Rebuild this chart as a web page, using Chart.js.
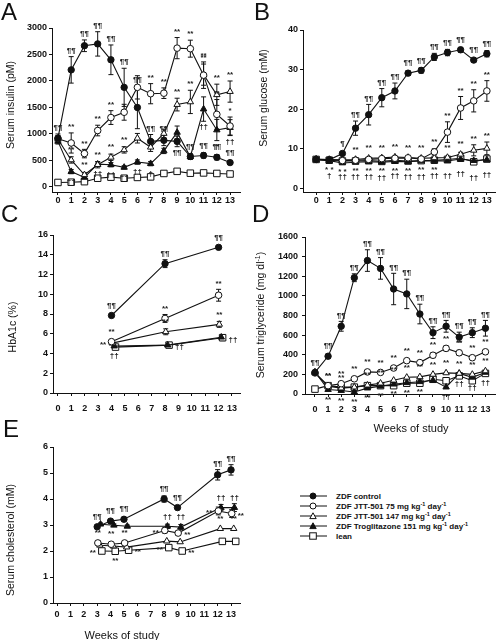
<!DOCTYPE html>
<html>
<head>
<meta charset="utf-8">
<script src="https://cdn.jsdelivr.net/npm/chart.js@4.4.1/dist/chart.umd.min.js"></script>
<style>
  body { margin: 0; background: #fff; font-family: "Liberation Sans", Arial, sans-serif; color: #111; }
  #page { position: relative; width: 501px; height: 640px; overflow: hidden; }
  canvas { position: absolute; }
  .letter { position: absolute; font-size: 24px; line-height: 24px; }
  .ytitle { position: absolute; font-size: 10.5px; white-space: nowrap; transform: translate(-50%, -50%) rotate(-90deg); }
  .xtitle { position: absolute; font-size: 11px; white-space: nowrap; transform: translate(-50%, -50%); }
  #legend { position: absolute; left: 300px; top: 491px; font-size: 8px; font-weight: bold; }
  #legend .row { height: 10px; display: flex; align-items: center; }
  #legend svg { margin-right: 9px; }
  #legend sup { font-size: 5.5px; vertical-align: 3px; }
</style>
</head>
<body>
<div id="page">
  <canvas id="chartA"></canvas>
  <canvas id="chartB"></canvas>
  <canvas id="chartC"></canvas>
  <canvas id="chartD"></canvas>
  <canvas id="chartE"></canvas>

  <div class="letter" style="left:1px;top:0px">A</div>
  <div class="letter" style="left:254px;top:0px">B</div>
  <div class="letter" style="left:1px;top:202px">C</div>
  <div class="letter" style="left:252px;top:202px">D</div>
  <div class="letter" style="left:3px;top:417px">E</div>

  <div class="ytitle" style="left:10px;top:105px">Serum insulin (pM)</div>
  <div class="ytitle" style="left:263px;top:98px">Serum glucose (mM)</div>
  <div class="ytitle" style="left:12px;top:327px">HbA1c (%)</div>
  <div class="ytitle" style="left:260px;top:315px">Serum triglyceride (mg dl<sup style="font-size:7px">-1</sup>)</div>
  <div class="ytitle" style="left:10px;top:540px">Serum cholesterol (mM)</div>

  <div class="xtitle" style="left:411px;top:428px">Weeks of study</div>
  <div class="xtitle" style="left:122px;top:635px">Weeks of study</div>

  <div id="legend"></div>
</div>
<script>
// ---- data ----
const weeks = [0, 1, 2, 3, 4, 5, 6, 7, 8, 9, 10, 11, 12, 13];
const weekTicks = [0, 1, 2, 3, 4, 5, 6, 7, 8, 9, 10, 11, 12, 13];

// A: serum insulin (pM)
const insulinTicks = [0, 500, 1000, 1500, 2000, 2500, 3000];
const insulinCtrl   = [920, 2210, 2665, 2700, 2400, 1880, 1500, 860, 880, 860, 575, 595, 560, 460];
const insulinJtt75  = [910, 830, 630, 1065, 1310, 1410, 1880, 1760, 1770, 2620, 2610, 2110, 1370, 1150];
const insulinJtt147 = [900, 510, 230, 420, 560, 700, 920, 750, 1010, 1555, 1605, 2120, 1740, 1800];
const insulinTrog   = [860, 290, 180, 430, 420, 370, 470, 440, 680, 1030, 570, 1470, 1075, 1120];
const insulinLean   = [85, 90, 100, 165, 185, 165, 180, 190, 255, 295, 260, 265, 255, 245];
const insulinCtrlErr   = [80, 250, 110, 230, 280, 360, 400, 130, 100, 100, 50, 50, 50, 30];
const insulinJtt75Err  = [60, 190, 80, 100, 130, 150, 220, 190, 100, 200, 160, 250, 280, 170];
const insulinJtt147Err = [50, 60, 40, 60, 60, 60, 90, 80, 80, 120, 220, 200, 200, 200];
const insulinTrogErr   = [50, 40, 30, 40, 40, 30, 40, 40, 50, 120, 50, 230, 200, 150];

// B: serum glucose (mM)
const glucoseTicks = [0, 10, 20, 30, 40];
const glucoseCtrl   = [7.3, 7.2, 8.8, 15.2, 18.6, 22.9, 24.6, 29.1, 29.8, 33.2, 34.3, 35.0, 32.4, 34.0];
const glucoseJtt75  = [7.3, 7.2, 7.0, 7.1, 7.3, 7.5, 7.6, 7.7, 7.4, 9.2, 14.2, 20.3, 22.1, 24.6];
const glucoseJtt147 = [7.4, 7.3, 7.2, 7.3, 7.6, 7.7, 7.9, 7.8, 7.6, 7.7, 7.8, 8.6, 9.6, 10.1];
const glucoseTrog   = [7.2, 7.0, 6.4, 6.6, 6.7, 6.6, 6.8, 6.7, 6.9, 7.0, 6.9, 7.4, 7.0, 7.2];
const glucoseLean   = [7.3, 7.1, 6.9, 6.9, 7.0, 6.8, 7.1, 6.9, 7.0, 7.1, 7.3, 7.6, 6.7, 7.4];
const glucoseCtrlErr   = [0.2, 0.2, 0.4, 1.8, 2.6, 2.3, 2.0, 0.6, 0.7, 0.9, 0.8, 0.6, 0.5, 0.8];
const glucoseJtt75Err  = [0.2, 0.2, 0.2, 0.2, 0.2, 0.2, 0.3, 0.3, 0.3, 0.8, 2.6, 2.9, 2.8, 2.6];
const glucoseJtt147Err = [0, 0, 0, 0, 0, 0, 0, 0, 0, 0, 0.3, 0.5, 1.4, 1.6];

// C: HbA1c (%)
const hbWeeks = [4, 8, 12];
const hbTicks = [0, 2, 4, 6, 8, 10, 12, 14, 16];
const hbCtrl   = [7.85, 13.1, 14.75];
const hbJtt75  = [5.2, 7.55, 9.9];
const hbJtt147 = [5.05, 6.2, 6.95];
const hbTrog   = [4.75, 4.85, 5.65];
const hbLean   = [4.65, 4.85, 5.6];
const hbCtrlErr   = [0.1, 0.4, 0.2];
const hbJtt75Err  = [0.2, 0.4, 0.6];
const hbJtt147Err = [0.1, 0.3, 0.3];
const hbLeanErr   = [0.1, 0.1, 0.3];

// D: serum triglyceride (mg/dl)
const tgTicks = [0, 200, 400, 600, 800, 1000, 1200, 1400, 1600];
const tgCtrl   = [220, 385, 690, 1185, 1360, 1280, 1070, 1020, 815, 625, 690, 580, 625, 670];
const tgJtt75  = [215, 85, 105, 155, 225, 220, 265, 340, 320, 395, 465, 420, 370, 430];
const tgJtt147 = [215, 80, 60, 70, 90, 110, 140, 170, 175, 200, 215, 210, 200, 235];
const tgTrog   = [225, 45, 35, 20, 60, 80, 100, 115, 125, 140, 70, 210, 170, 220];
const tgLean   = [50, 85, 70, 70, 85, 85, 85, 110, 110, 150, 135, 185, 135, 210];
const tgCtrlErr  = [20, 20, 50, 40, 110, 110, 160, 150, 100, 60, 60, 50, 50, 80];
const tgJtt75Err = [15, 15, 15, 15, 20, 20, 20, 20, 20, 25, 25, 25, 20, 20];

// E: serum cholesterol (mM)
const cholWeeks = [3, 4, 5, 8, 9, 12, 13];
const cholTicks = [0, 1, 2, 3, 4, 5, 6];
const cholCtrl   = [2.93, 3.15, 3.22, 4.0, 3.67, 4.93, 5.12];
const cholJtt75  = [2.31, 2.26, 2.31, 2.79, 2.69, 3.54, 3.44];
const cholJtt147 = [2.22, 2.19, 2.15, 2.38, 2.35, 2.86, 2.86];
const cholTrog   = [3.03, 2.99, 2.95, 2.95, 2.92, 3.67, 3.67];
const cholLean   = [2.0, 1.99, 2.03, 2.13, 2.0, 2.37, 2.37];
const cholCtrlErr  = [0.05, 0.08, 0.07, 0.12, 0.08, 0.2, 0.2];
const cholJtt75Err = [0.08, 0.06, 0.06, 0.1, 0.08, 0.15, 0.15];
const cholTrogErr  = [0.05, 0.05, 0.05, 0.08, 0.1, 0.12, 0.15];

// significance symbols
const P = '¶¶', S = '**', D = '††';
const insulinCtrlAbove  = [P, P, P, P, P, P, P, P, P, '', P, P, P, P];
const insulinCtrlBelow  = ['', '', '', '', '', '', '', '', '', P, '', '', '', ''];
const insulinJtt75Above = ['', S, S, S, S, '', '', S, S, S, S, S, S, '*'];
const insulinJtt147Above = ['', S, S, S, S, S, '', '', '', S, S, S, S, S];
const insulinTrogBelow  = ['', D, '', D, D, D, D, '†', '', '', '', D, '†', D];

const glucoseCtrlAbove   = ['', '', '¶', P, P, P, P, P, P, P, P, P, P, P];
const glucoseJtt75Above  = ['', '', '', '', '', '', '', '', '', S, S, S, S, S];
const glucoseJtt147Above = ['', '', '', S, S, S, S, S, S, '', S, S, S, S];
const glucoseTrogBelow   = ['', '* *', '* *', S, S, S, S, S, S, S, '', '', '', ''];
const glucoseLeanBelow   = ['', '†', D, D, D, D, D, D, D, D, D, D, D, D];

const hbCtrlAbove   = [P, P, P];
const hbJtt75Above  = [S, S, S];
const hbJtt147Above = ['', S, S];
const hbJtt147Left  = [S, '', ''];
const hbTrogBelow   = [D, '', ''];
const hbLeanRight   = ['', D, D];

const tgCtrlAbove   = [P, P, P, P, P, P, P, P, P, P, P, P, P, P];
const tgJtt75Above  = ['', S, S, S, S, S, S, S, S, S, S, S, S, S];
const tgJtt147Above = ['', S, S, '', S, S, S, S, S, S, S, S, S, S];
const tgTrogBelow   = ['', S, S, S, S, S, S, S, S, '', D, D, D, D];

const cholCtrlAbove  = [P, P, P, P, P, P, P];
const cholTrogAbove  = ['', '', '', D, D, D, D];
const cholJtt75Above = [S, S, S, '', '', '', ''];
const cholJtt75Left  = ['', '', '', S, '', S, ''];
const cholJtt75Right = ['', '', '', '', S, '', S];
const cholJtt147Above = ['', '', '', '', '', S, S];
const cholLeanLeft   = [S, '', '', S, '', '', ''];
const cholLeanBelow  = ['', S, '', '', '', '', ''];
const cholLeanRight  = ['', '', S, '', S, '', ''];

const legendLabels = [
  'ZDF control',
  'ZDF JTT-501 75 mg kg<sup>-1</sup> day<sup>-1</sup>',
  'ZDF JTT-501 147 mg kg<sup>-1</sup> day<sup>-1</sup>',
  'ZDF Troglitazone 151 mg kg<sup>-1</sup> day<sup>-1</sup>',
  'lean'
];

// ---- styles ----
const INK = '#111';
const styles = {
  ctrl:   { pointStyle: 'circle',   fill: INK,    radius: 3.2 },
  jtt75:  { pointStyle: 'circle',   fill: '#fff', radius: 3.3 },
  jtt147: { pointStyle: 'triangle', fill: '#fff', radius: 3.7 },
  trog:   { pointStyle: 'triangle', fill: INK,    radius: 3.7 },
  lean:   { pointStyle: 'rect',     fill: '#fff', radius: 4.6 }
};
const order = ['ctrl', 'jtt75', 'jtt147', 'trog', 'lean'];
const tickFont = { family: '"Liberation Sans", Arial, sans-serif', size: 9, weight: 'bold' };

// error bars drawn under the points
const errorBars = {
  id: 'errorBars',
  beforeDatasetsDraw(chart) {
    const { ctx, scales: { x, y } } = chart;
    ctx.save();
    ctx.strokeStyle = INK;
    ctx.lineWidth = 1;
    chart.data.datasets.forEach(ds => {
      if (!ds.errors) return;
      ds.data.forEach((p, i) => {
        const e = ds.errors[i];
        if (!e) return;
        const px = x.getPixelForValue(p.x);
        const top = y.getPixelForValue(p.y + e);
        const bot = y.getPixelForValue(p.y - e);
        ctx.beginPath();
        ctx.moveTo(px, top); ctx.lineTo(px, bot);
        ctx.moveTo(px - 2.5, top); ctx.lineTo(px + 2.5, top);
        ctx.moveTo(px - 2.5, bot); ctx.lineTo(px + 2.5, bot);
        ctx.stroke();
      });
    });
    ctx.restore();
  }
};

// significance symbols next to points
const sigMarks = {
  id: 'sigMarks',
  afterDatasetsDraw(chart) {
    const { ctx, scales: { x, y } } = chart;
    ctx.save();
    ctx.fillStyle = '#222';
    ctx.font = 'bold 8px "Liberation Sans", Arial, sans-serif';
    chart.data.datasets.forEach(ds => {
      const m = ds.marks;
      if (!m) return;
      ds.data.forEach((p, i) => {
        const e = (ds.errors && ds.errors[i]) || 0;
        const px = x.getPixelForValue(p.x);
        const py = y.getPixelForValue(p.y);
        if (m.above && m.above[i]) {
          ctx.textAlign = 'center'; ctx.textBaseline = 'bottom';
          ctx.fillText(m.above[i], px, Math.min(y.getPixelForValue(p.y + e), py - 4) - 2);
        }
        if (m.below && m.below[i]) {
          ctx.textAlign = 'center'; ctx.textBaseline = 'top';
          ctx.fillText(m.below[i], px, Math.max(y.getPixelForValue(p.y - e), py + 4) + (m.gap || 2));
        }
        if (m.left && m.left[i]) {
          ctx.textAlign = 'right'; ctx.textBaseline = 'middle';
          ctx.fillText(m.left[i], px - 6, py + 2);
        }
        if (m.right && m.right[i]) {
          ctx.textAlign = 'left'; ctx.textBaseline = 'middle';
          ctx.fillText(m.right[i], px + 6, py + 2);
        }
      });
    });
    ctx.restore();
  }
};

function buildPanel(cfg) {
  const cv = document.getElementById(cfg.id);
  const b = cfg.box, a = cfg.area;
  cv.width = b.w; cv.height = b.h;
  cv.style.left = b.x + 'px'; cv.style.top = b.y + 'px';
  const datasets = cfg.series.map(s => {
    const st = styles[s.key];
    const shift = (cfg.shift && cfg.shift[s.key]) || 0;
    return {
      data: s.values.map((v, i) => ({ x: s.weeks[i] + shift, y: v })),
      errors: s.errors,
      marks: s.marks,
      borderColor: INK,
      borderWidth: 1.1,
      pointStyle: st.pointStyle,
      pointRadius: st.radius,
      pointBackgroundColor: st.fill,
      pointBorderColor: INK,
      pointBorderWidth: 1,
      tension: 0,
      clip: false,
      order: order.indexOf(s.key)
    };
  });
  return new Chart(cv, {
    type: 'line',
    data: { datasets },
    options: {
      responsive: false,
      animation: false,
      events: [],
      layout: { padding: { left: 0, top: a.t - b.y, right: b.x + b.w - a.r, bottom: 0 } },
      plugins: { legend: { display: false }, tooltip: { enabled: false } },
      scales: {
        x: {
          type: 'linear', min: cfg.xMin, max: cfg.xMax,
          afterFit: s => { s.height = b.y + b.h - a.b; },
          afterBuildTicks: s => { s.ticks = weekTicks.map(v => ({ value: v })); },
          grid: { drawOnChartArea: false, tickLength: 3, color: INK },
          border: { color: INK, width: 1 },
          ticks: { padding: cfg.xPad, font: tickFont, color: INK, maxRotation: 0, autoSkip: false, callback: v => String(v) }
        },
        y: {
          min: cfg.yMin, max: cfg.yMax,
          afterFit: s => { s.width = a.l - b.x; },
          afterBuildTicks: s => { s.ticks = cfg.yTicks.map(v => ({ value: v })); },
          grid: { drawOnChartArea: false, tickLength: 3, color: INK },
          border: { color: INK, width: 1 },
          ticks: { padding: cfg.yPad, font: tickFont, color: INK, callback: v => String(v) }
        }
      }
    },
    plugins: [errorBars, sigMarks]
  });
}

buildPanel({
  id: 'chartA', box: { x: 0, y: 0, w: 250, h: 206 }, area: { l: 52, t: 28, r: 240, b: 192 },
  xMin: -0.45, xMax: 13.75, yMin: -95, yMax: 3000, yTicks: insulinTicks, xPad: 0, yPad: 2,
  series: [
    { key: 'ctrl', weeks, values: insulinCtrl, errors: insulinCtrlErr, marks: { above: insulinCtrlAbove, below: insulinCtrlBelow } },
    { key: 'jtt75', weeks, values: insulinJtt75, errors: insulinJtt75Err, marks: { above: insulinJtt75Above } },
    { key: 'jtt147', weeks, values: insulinJtt147, errors: insulinJtt147Err, marks: { above: insulinJtt147Above } },
    { key: 'trog', weeks, values: insulinTrog, errors: insulinTrogErr, marks: { below: insulinTrogBelow } },
    { key: 'lean', weeks, values: insulinLean }
  ]
});

buildPanel({
  id: 'chartB', box: { x: 250, y: 0, w: 251, h: 206 }, area: { l: 303, t: 30, r: 497, b: 192 },
  xMin: -1.0, xMax: 13.65, yMin: -0.93, yMax: 40, yTicks: glucoseTicks, xPad: 0, yPad: 2,
  series: [
    { key: 'ctrl', weeks, values: glucoseCtrl, errors: glucoseCtrlErr, marks: { above: glucoseCtrlAbove } },
    { key: 'jtt75', weeks, values: glucoseJtt75, errors: glucoseJtt75Err, marks: { above: glucoseJtt75Above } },
    { key: 'jtt147', weeks, values: glucoseJtt147, errors: glucoseJtt147Err, marks: { above: glucoseJtt147Above } },
    { key: 'trog', weeks, values: glucoseTrog, marks: { below: glucoseTrogBelow, gap: 1 } },
    { key: 'lean', weeks, values: glucoseLean, marks: { below: glucoseLeanBelow, gap: 8 } }
  ]
});

buildPanel({
  id: 'chartC', box: { x: 0, y: 200, w: 250, h: 218 }, area: { l: 53, t: 235, r: 240, b: 393 },
  xMin: -0.37, xMax: 13.6, yMin: 0, yMax: 16, yTicks: hbTicks, xPad: 7, yPad: 2,
  shift: { jtt147: 0.05, trog: 0.2, lean: 0.3 },
  series: [
    { key: 'ctrl', weeks: hbWeeks, values: hbCtrl, errors: hbCtrlErr, marks: { above: hbCtrlAbove } },
    { key: 'jtt75', weeks: hbWeeks, values: hbJtt75, errors: hbJtt75Err, marks: { above: hbJtt75Above } },
    { key: 'jtt147', weeks: hbWeeks, values: hbJtt147, errors: hbJtt147Err, marks: { above: hbJtt147Above, left: hbJtt147Left } },
    { key: 'trog', weeks: hbWeeks, values: hbTrog, marks: { below: hbTrogBelow } },
    { key: 'lean', weeks: hbWeeks, values: hbLean, errors: hbLeanErr, marks: { right: hbLeanRight } }
  ]
});

buildPanel({
  id: 'chartD', box: { x: 250, y: 200, w: 251, h: 218 }, area: { l: 305, t: 237, r: 497, b: 394 },
  xMin: -0.76, xMax: 13.76, yMin: 0, yMax: 1600, yTicks: tgTicks, xPad: 7, yPad: 4,
  series: [
    { key: 'ctrl', weeks, values: tgCtrl, errors: tgCtrlErr, marks: { above: tgCtrlAbove } },
    { key: 'jtt75', weeks, values: tgJtt75, errors: tgJtt75Err, marks: { above: tgJtt75Above } },
    { key: 'jtt147', weeks, values: tgJtt147, marks: { above: tgJtt147Above } },
    { key: 'trog', weeks, values: tgTrog, marks: { below: tgTrogBelow } },
    { key: 'lean', weeks, values: tgLean }
  ]
});

buildPanel({
  id: 'chartE', box: { x: 0, y: 400, w: 250, h: 222 }, area: { l: 53, t: 447, r: 240, b: 603 },
  xMin: -0.3, xMax: 13.67, yMin: 0, yMax: 6, yTicks: cholTicks, xPad: 3, yPad: 2,
  shift: { jtt75: 0.05, jtt147: 0.2, trog: 0.25, lean: 0.35 },
  series: [
    { key: 'ctrl', weeks: cholWeeks, values: cholCtrl, errors: cholCtrlErr, marks: { above: cholCtrlAbove } },
    { key: 'jtt75', weeks: cholWeeks, values: cholJtt75, errors: cholJtt75Err, marks: { above: cholJtt75Above, left: cholJtt75Left, right: cholJtt75Right } },
    { key: 'jtt147', weeks: cholWeeks, values: cholJtt147, marks: { above: cholJtt147Above } },
    { key: 'trog', weeks: cholWeeks, values: cholTrog, errors: cholTrogErr, marks: { above: cholTrogAbove } },
    { key: 'lean', weeks: cholWeeks, values: cholLean, marks: { left: cholLeanLeft, below: cholLeanBelow, right: cholLeanRight } }
  ]
});

// legend
const markerSvg = {
  ctrl:   '<circle cx="13" cy="4" r="3" fill="#111" stroke="#111"/>',
  jtt75:  '<circle cx="13" cy="4" r="3" fill="#fff" stroke="#111"/>',
  jtt147: '<polygon points="13,0.8 16.2,6.6 9.8,6.6" fill="#fff" stroke="#111"/>',
  trog:   '<polygon points="13,0.8 16.2,6.6 9.8,6.6" fill="#111" stroke="#111"/>',
  lean:   '<rect x="9.7" y="0.8" width="6.6" height="6.4" fill="#fff" stroke="#111"/>'
};
const legend = document.getElementById('legend');
order.forEach((key, i) => {
  const row = document.createElement('div');
  row.className = 'row';
  row.innerHTML = `<svg width="27" height="8"><line x1="0" y1="4" x2="27" y2="4" stroke="#111" stroke-width="1"/>${markerSvg[key]}</svg><span>${legendLabels[i]}</span>`;
  legend.appendChild(row);
});
</script>
</body>
</html>
